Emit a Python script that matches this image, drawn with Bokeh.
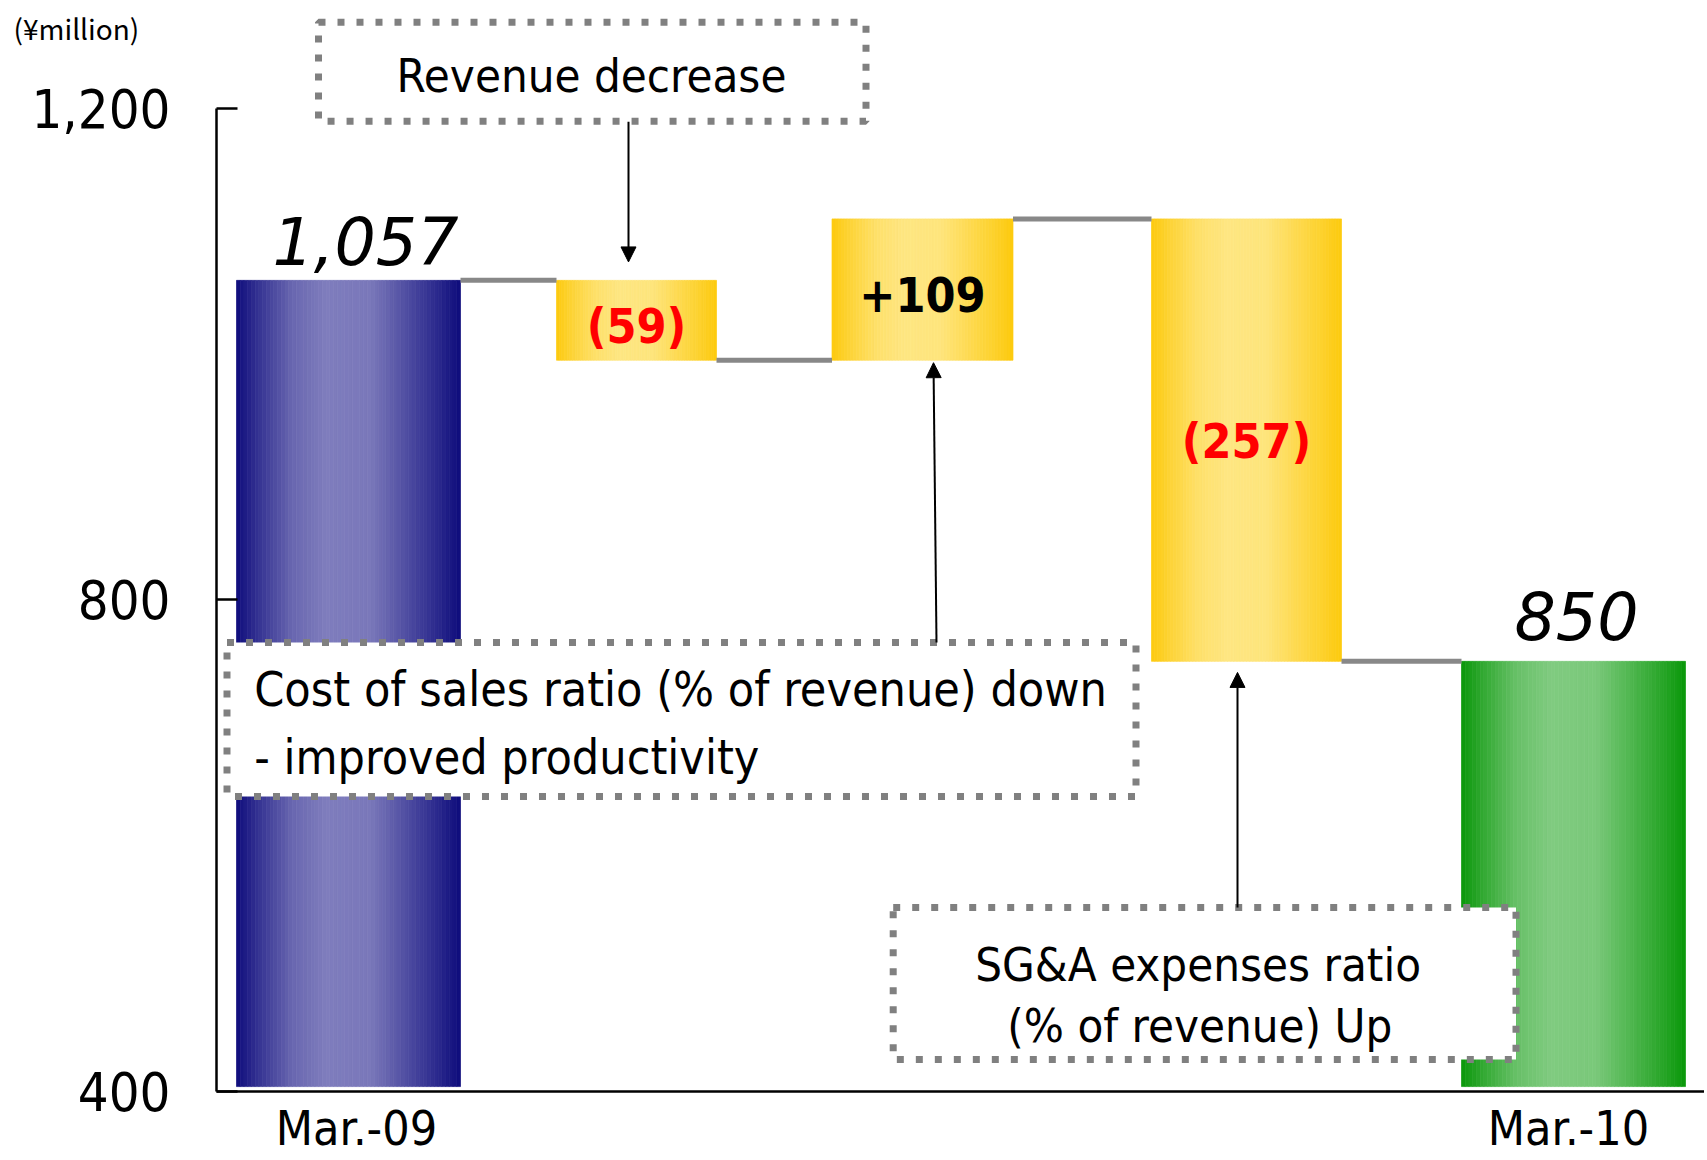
import numpy as np
from bokeh.plotting import figure
from bokeh.models import Range1d, FixedTicker, Arrow, NormalHead
from bokeh.core.properties import value
from bokeh.embed import file_html
from bokeh.resources import INLINE

# ---------------- data ----------------
categories = ["Mar.-09", "Revenue decrease", "Cost of sales ratio", "SG&A expenses ratio", "Mar.-10"]
bar_start = [404, 1060, 995, 1110, 404]      # drawn bottom / start level (¥million axis units)
bar_end = [1060, 995, 1110, 750, 750]        # drawn top / end level
bar_labels = ["1,057", "(59)", "+109", "(257)", "850"]
y_ticks = [400, 800, 1200]
y_tick_labels = ["400", "800", "1,200"]
x_tick_labels = ["Mar.-09", "Mar.-10"]
unit_text = "(¥million)"
note_revenue = "Revenue decrease"
note_cost = ["Cost of sales ratio (% of revenue) down", "- improved productivity"]
note_sga = ["SG&A expenses ratio", " (% of revenue) Up"]

# ---------------- layout (styling / positions) ----------------
W, H = 1704, 1158
PX = 983.2 / 800.0                      # pixels per axis unit
AX_X = 216                              # page x of the value axis
Y1200 = 107.8                           # page y of the 1,200 tick
x_lo, x_hi = -AX_X, W - AX_X
y_hi = 1200 + Y1200 / PX
y_lo = 1200 - (H - Y1200) / PX

bar_center = [132, 420, 706, 1030, 1357]
bar_width = [224, 160, 181, 190, 224]
bar_kind = ["blue", "yellow", "yellow", "yellow", "green"]
palette = {
    "blue": ((14, 12, 124), (127, 125, 189)),
    "yellow": ((253, 202, 14), (254, 230, 130)),
    "green": ((10, 152, 10), (128, 203, 128)),
}
FONT = "DejaVu Sans Condensed"

p = figure(width=W, height=H, output_backend="svg", toolbar_location=None,
           x_range=Range1d(x_lo, x_hi), y_range=Range1d(y_lo, y_hi),
           min_border_left=0, min_border_right=0, min_border_top=0, min_border_bottom=0)
p.outline_line_color = None
p.xgrid.visible = False
p.ygrid.visible = False
p.background_fill_color = "white"
p.border_fill_color = "white"

# ---------------- gradient bars ----------------
N = 60
tp = [0, 0.1, 0.25, 0.4, 0.6, 0.75, 0.9, 1.0]
vp = [0, 0.35, 0.8, 1.0, 0.95, 0.6, 0.25, 0.0]
L, R, B, T, C = [], [], [], [], []
for c, w, s, e, k in zip(bar_center, bar_width, bar_start, bar_end, bar_kind):
    dark, light = palette[k]
    left = c - w / 2
    for j in range(N):
        t = (j + 0.5) / N
        f = np.interp(t, tp, vp)
        col = tuple(int(round(d + (l - d) * f)) for d, l in zip(dark, light))
        L.append(left + j * w / N)
        R.append(left + (j + 1) * w / N)
        B.append(min(s, e))
        T.append(max(s, e))
        C.append("#%02x%02x%02x" % col)
p.quad(left=L, right=R, bottom=B, top=T, fill_color=C, line_color=C, line_width=0.7)

# ---------------- connectors ----------------
cx0, cx1, cy = [], [], []
for i in range(len(bar_center) - 1):
    cx0.append(bar_center[i] + bar_width[i] / 2)
    cx1.append(bar_center[i + 1] - bar_width[i + 1] / 2)
    cy.append(bar_end[i])
p.segment(x0=cx0, y0=cy, x1=cx1, y1=cy, line_color="#888888", line_width=5)

# ---------------- value labels ----------------
tot_x = [bar_center[0] + 17, bar_center[-1] + 3]
tot_y = [bar_end[0] + 40 / PX, bar_end[-1] + 46 / PX]
p.text(x=tot_x, y=tot_y, text=[bar_labels[0], bar_labels[-1]],
       text_font=value("DejaVu Sans"), text_font_style="italic", text_font_size="65px",
       text_align="center", text_baseline="middle", text_color="black")
mid = [(s + e) / 2 - d / PX for s, e, d in zip(bar_start[1:4], bar_end[1:4], [6, 5, 1])]
p.text(x=bar_center[1:4], y=mid, text=bar_labels[1:4],
       text_font=value(FONT), text_font_style="bold", text_font_size="48px",
       text_align="center", text_baseline="middle",
       text_color=["#ff0000", "black", "#ff0000"])

# ---------------- annotation boxes ----------------
box_l = [102, 10.5, 676.7]
box_r = [649.5, 919.5, 1299.5]
box_b = [1189.4, 640, 426]
box_t = [1270, 765.3, 549.7]
p.quad(left=box_l, right=box_r, bottom=box_b, top=box_t, fill_color="white",
       line_color="#808080", line_width=7, line_dash="7 12")

p.text(x=[375], y=[1226.7], text=[note_revenue], text_font=value(FONT),
       text_font_size="47px", text_align="center", text_baseline="middle", text_color="black")
p.text(x=[37.7, 37.7], y=[727.9, 671.8], text=note_cost, text_font=value(FONT),
       text_font_size="48px", text_align="left", text_baseline="middle", text_color="black")
p.text(x=[981.6, 990], y=[503.7, 454], text=note_sga, text_font=value(FONT),
       text_font_size="47px", text_align="center", text_baseline="middle", text_color="black")

# ---------------- arrows ----------------
arrows = [((412, 1189), (412, 1075)),
          ((720, 765.3), (717, 993)),
          ((1021, 549.7), (1021, 741))]
for (xs, ys), (xe, ye) in arrows:
    p.add_layout(Arrow(end=NormalHead(size=15, fill_color="black", line_color="black", line_width=1),
                       x_start=xs, y_start=ys, x_end=xe, y_end=ye,
                       line_color="black", line_width=2))

# ---------------- unit label ----------------
p.text(x=[-203], y=[1265.7], text=[unit_text], text_font=value("Noto Sans CJK JP"),
       text_font_size="28px", text_align="left", text_baseline="middle", text_color="black")

# ---------------- axes ----------------
ya = p.yaxis[0]
ya.fixed_location = 0
ya.ticker = FixedTicker(ticks=y_ticks)
ya.major_label_overrides = {t: s for t, s in zip(y_ticks, y_tick_labels)}
ya.bounds = (y_ticks[0], y_ticks[-1])
ya.axis_line_width = 2.5
ya.axis_line_color = "black"
ya.major_tick_in = 21
ya.major_tick_out = 0
ya.major_tick_line_width = 2.5
ya.minor_tick_line_color = None
ya.major_label_standoff = 46
ya.major_label_text_font = FONT
ya.major_label_text_font_size = "54px"
ya.major_label_text_color = "black"

xa = p.xaxis[0]
xa.fixed_location = y_ticks[0]
x_ticks = [bar_center[0] + 8, bar_center[-1] - 5]
xa.ticker = FixedTicker(ticks=x_ticks)
xa.major_label_overrides = {x_ticks[0]: x_tick_labels[0], x_ticks[1]: x_tick_labels[1]}
xa.bounds = (0, x_hi)
xa.axis_line_width = 2.5
xa.axis_line_color = "black"
xa.major_tick_line_color = None
xa.major_tick_in = 0
xa.major_tick_out = 0
xa.minor_tick_line_color = None
xa.major_label_standoff = 8
xa.major_label_text_font = FONT
xa.major_label_text_font_size = "48px"
xa.major_label_text_color = "black"

open("out.html", "w").write(file_html(p, INLINE))
